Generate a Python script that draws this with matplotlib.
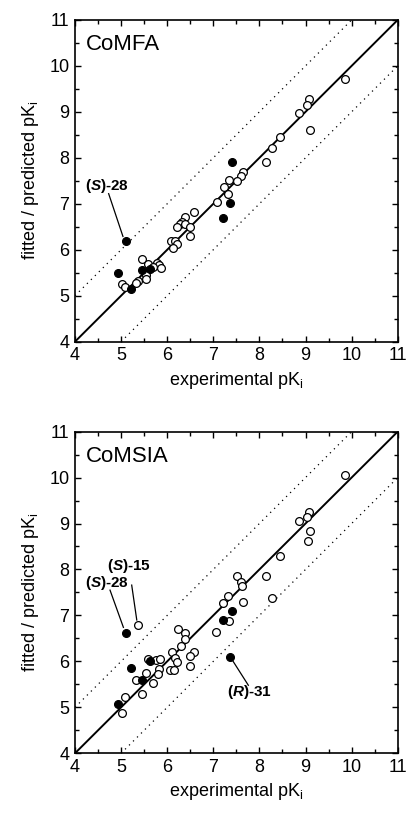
import matplotlib
matplotlib.use('Agg')
import matplotlib.pyplot as plt

plt.rcParams['font.family'] = ['Liberation Sans', 'DejaVu Sans']
plt.rcParams['mathtext.fontset'] = 'custom'
plt.rcParams['mathtext.rm'] = 'Liberation Sans'
plt.rcParams['mathtext.it'] = 'Liberation Sans:italic'
plt.rcParams['mathtext.bf'] = 'Liberation Sans:bold'
plt.rcParams['mathtext.bfit'] = 'Liberation Sans:italic:bold'

# CoMFA: open = training set, filled = test set
comfa_train_exp = [9.86, 9.08, 9.03, 8.85, 9.10, 8.45, 8.28, 8.14, 7.64, 7.60,
                   7.52, 7.34, 7.23, 7.31, 7.07, 6.58, 6.39, 6.33, 6.28, 6.39,
                   6.22, 6.49, 6.49, 6.08, 6.17, 6.22, 6.13, 5.45, 5.59, 5.77,
                   5.82, 5.86, 5.70, 5.55, 5.55, 5.37, 5.32, 5.01, 5.08]
comfa_train_pred = [9.72, 9.27, 9.16, 8.98, 8.61, 8.45, 8.21, 7.90, 7.69, 7.61,
                    7.50, 7.51, 7.37, 7.21, 7.03, 6.83, 6.71, 6.60, 6.55, 6.55,
                    6.50, 6.50, 6.30, 6.20, 6.18, 6.13, 6.03, 5.79, 5.68, 5.72,
                    5.67, 5.61, 5.62, 5.45, 5.36, 5.31, 5.27, 5.26, 5.18]
comfa_test_exp = [4.93, 5.10, 5.22, 5.45, 5.62, 7.22, 7.36, 7.41]
comfa_test_pred = [5.49, 6.19, 5.14, 5.55, 5.59, 6.69, 7.01, 7.91]

# CoMSIA
comsia_train_exp = [9.86, 9.08, 9.03, 8.85, 9.10, 9.06, 8.45, 8.14, 7.51, 7.60,
                    7.62, 7.31, 7.22, 8.28, 7.64, 7.35, 7.06, 6.24, 6.39, 6.39,
                    6.29, 6.58, 6.10, 6.17, 6.49, 6.21, 6.49, 6.06, 6.14, 5.59,
                    5.75, 5.84, 5.83, 5.79, 5.55, 5.32, 5.69, 5.45, 5.08, 5.01,
                    5.36]
comsia_train_pred = [10.06, 9.24, 9.14, 9.06, 8.83, 8.63, 8.30, 7.86, 7.86, 7.73,
                     7.64, 7.42, 7.26, 7.39, 7.30, 6.88, 6.63, 6.70, 6.61, 6.48,
                     6.34, 6.21, 6.21, 6.08, 6.11, 5.99, 5.90, 5.81, 5.81, 6.06,
                     6.04, 6.05, 5.83, 5.72, 5.75, 5.59, 5.52, 5.28, 5.23, 4.88,
                     6.80]
comsia_test_exp = [4.93, 5.10, 5.22, 5.45, 5.62, 7.22, 7.36, 7.41]
comsia_test_pred = [5.08, 6.62, 5.85, 5.59, 6.00, 6.91, 6.10, 7.10]

ticks = [4, 5, 6, 7, 8, 9, 10, 11]

# (label, text x, text y, line from, line to)
comfa_notes = [(r'($\mathbfit{S}$)-28', 4.22, 7.30, (4.73, 7.22), (5.04, 6.29))]
comsia_notes = [(r'($\mathbfit{S}$)-28', 4.22, 7.61, (4.76, 7.55), (5.05, 6.74)),
                (r'($\mathbfit{S}$)-15', 4.69, 7.99, (5.23, 7.66), (5.34, 6.90)),
                (r'($\mathbfit{R}$)-31', 7.29, 5.24, (7.43, 6.00), (7.76, 5.48))]


def _panel(ax, title, tr_x, tr_y, te_x, te_y, notes):
    ax.plot([4, 11], [4, 11], color='black', lw=1.4, zorder=2)
    ax.plot([4, 10], [5, 11], color='black', lw=0.9, ls=(0, (1, 3.5)), zorder=1)
    ax.plot([5, 11], [4, 10], color='black', lw=0.9, ls=(0, (1, 3.5)), zorder=1)
    ax.plot(tr_x, tr_y, 'o', ms=5.6, mfc='white', mec='black', mew=0.9,
            ls='none', zorder=3)
    ax.plot(te_x, te_y, 'o', ms=5.6, mfc='black', mec='black', mew=0.9,
            ls='none', zorder=4)

    for label, tx, ty, p0, p1 in notes:
        ax.text(tx, ty, label, fontsize=11, fontweight='bold', ha='left',
                va='baseline')
        ax.plot([p0[0], p1[0]], [p0[1], p1[1]], color='black', lw=0.9)

    ax.text(0.035, 0.955, title, transform=ax.transAxes, fontsize=16,
            ha='left', va='top')
    ax.set_xlim(4, 11)
    ax.set_ylim(4, 11)
    ax.set_xticks(ticks)
    ax.set_yticks(ticks)
    ax.set_xticks([t + 0.5 for t in ticks[:-1]], minor=True)
    ax.set_yticks([t + 0.5 for t in ticks[:-1]], minor=True)
    ax.tick_params(which='both', direction='in', top=True, right=True,
                   width=1.0, labelsize=13, pad=4)
    ax.tick_params(which='major', length=4.5)
    ax.tick_params(which='minor', length=3)
    for sp in ax.spines.values():
        sp.set_linewidth(1.2)
    ax.set_xlabel(r'experimental pK$_{\mathrm{i}}$', fontsize=13, labelpad=4)
    ax.set_ylabel(r'fitted / predicted pK$_{\mathrm{i}}$', fontsize=13,
                  labelpad=6)


def draw():
    fig = plt.figure(figsize=(4.08, 8.17), dpi=100)
    ax1 = fig.add_axes([0.1838, 0.5818, 0.791, 0.3938])
    ax2 = fig.add_axes([0.1838, 0.0780, 0.791, 0.3937])
    _panel(ax1, 'CoMFA', comfa_train_exp, comfa_train_pred,
           comfa_test_exp, comfa_test_pred, comfa_notes)
    _panel(ax2, 'CoMSIA', comsia_train_exp, comsia_train_pred,
           comsia_test_exp, comsia_test_pred, comsia_notes)
    return fig


def save(fig):
    fig.savefig('out.png', dpi=100)


if __name__ == '__main__':
    save(draw())
